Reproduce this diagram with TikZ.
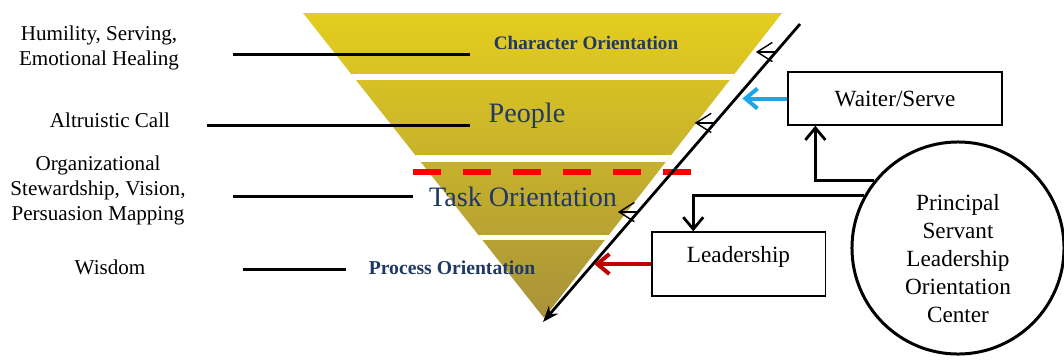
\documentclass[tikz,border=0pt]{standalone}
\usepackage{fontspec}
\setmainfont{Liberation Serif}
\usetikzlibrary{arrows.meta}

\definecolor{navy}{HTML}{1F3864}
\definecolor{goldtop}{HTML}{E4CE1E}
\definecolor{goldbot}{HTML}{A8923A}
\definecolor{servecyan}{HTML}{1CA6E6}
\definecolor{leaddred}{HTML}{C00000}

\tikzset{
  trait/.style={align=center, font=\fontsize{15}{17.8}\selectfont},
  band/.style={text=navy},
  box/.style={draw, line width=0.9pt, font=\fontsize{16.5}{20}\selectfont},
  rule/.style={line width=0.075cm},
  feed/.style={-{Straight Barb[length=0.3cm, width=0.5cm]}, line width=0.07cm},
}

\begin{document}
\begin{tikzpicture}[x=0.025cm, y=-0.025cm]
\useasboundingbox (0,0) rectangle (1064,363);

% inverted pyramid
\coordinate (tl) at (303,13);
\coordinate (tr) at (782,13);
\coordinate (ap) at (544,318);
\begin{scope}
\clip (tl) -- (tr) -- (ap) -- cycle;
\shade[top color=goldtop, bottom color=goldbot] (303,13) rectangle (782,318);
\foreach \y/\w in {77/6, 158.5/7, 237.5/5}
  \draw[white, line width=\w*0.025cm] (290,\y) -- (800,\y);
\end{scope}

\node[band, font=\bfseries\fontsize{13.6}{16}\selectfont] (character) at (586,43) {Character Orientation};
\node[band, font=\fontsize{20}{24}\selectfont] (people) at (527,116) {People};
\node[band, font=\fontsize{20}{24}\selectfont] (task) at (523,197) {Task Orientation};
\node[band, font=\bfseries\fontsize{14}{16}\selectfont] (process) at (452,268) {Process Orientation};

\draw[red, line width=0.15cm, dash pattern=on 0.7cm off 0.55cm] (413,172) -- (692,172);

% traits on the left
\node[trait] (humility) at (99,48) {Humility, Serving,\\Emotional Healing};
\node[trait] (altruism) at (110,120) {Altruistic Call};
\node[trait] (stewardship) at (98,190) {Organizational\\Stewardship, Vision,\\Persuasion Mapping};
\node[trait] (wisdom) at (110,267) {Wisdom};

\draw[rule] (233,54) -- (470,54);
\draw[rule] (207,125) -- (470,125);
\draw[rule] (233,196) -- (413,196);
\draw[rule] (243,269) -- (346,269);

% slope with small arrows
\coordinate (dtop) at (800,24);
\coordinate (dbot) at (543,322);
\draw[line width=0.07cm, -{Stealth[length=0.4cm, width=0.3cm]}] (dtop) -- (dbot);
\foreach \p/\n in {0.094/1, 0.332/2, 0.631/3}
  \path (dtop) -- (dbot) coordinate[pos=\p] (c\n);
\foreach \n in {1,2,3}
  \draw[-{Straight Barb[length=0.38cm, width=0.48cm]}, line width=1pt] (c\n) -- ++(-20,0);

% boxes and centre
\node[box, minimum width=5.35cm, minimum height=1.33cm] (waiter) at (895,98.5) {Waiter/Serve};
\node[box, minimum width=4.33cm, minimum height=1.6cm, text height=0.45cm, text depth=0.55cm] (lead) at (738.5,264) {Leadership};
\node[draw, circle, line width=0.075cm, minimum size=5.3cm, inner sep=0pt,
  font=\fontsize{16.5}{19.9}\selectfont] (centre) at (958,248)
  {\parbox[c][3.75cm][b]{3.4cm}{\centering Principal\\Servant\\Leadership\\Orientation\\Center}};

\draw[feed] (centre.141.5) -| ([xshift=0.7cm]waiter.south west);
\draw[feed] (centre.151) -| ([xshift=1.05cm]lead.north west);
\draw[feed, servecyan, line width=0.1cm] (waiter.west) -- ++(-45,0);
\draw[feed, leaddred, line width=0.1cm] (lead.west) -- ++(-57,0);
\end{tikzpicture}
\end{document}
